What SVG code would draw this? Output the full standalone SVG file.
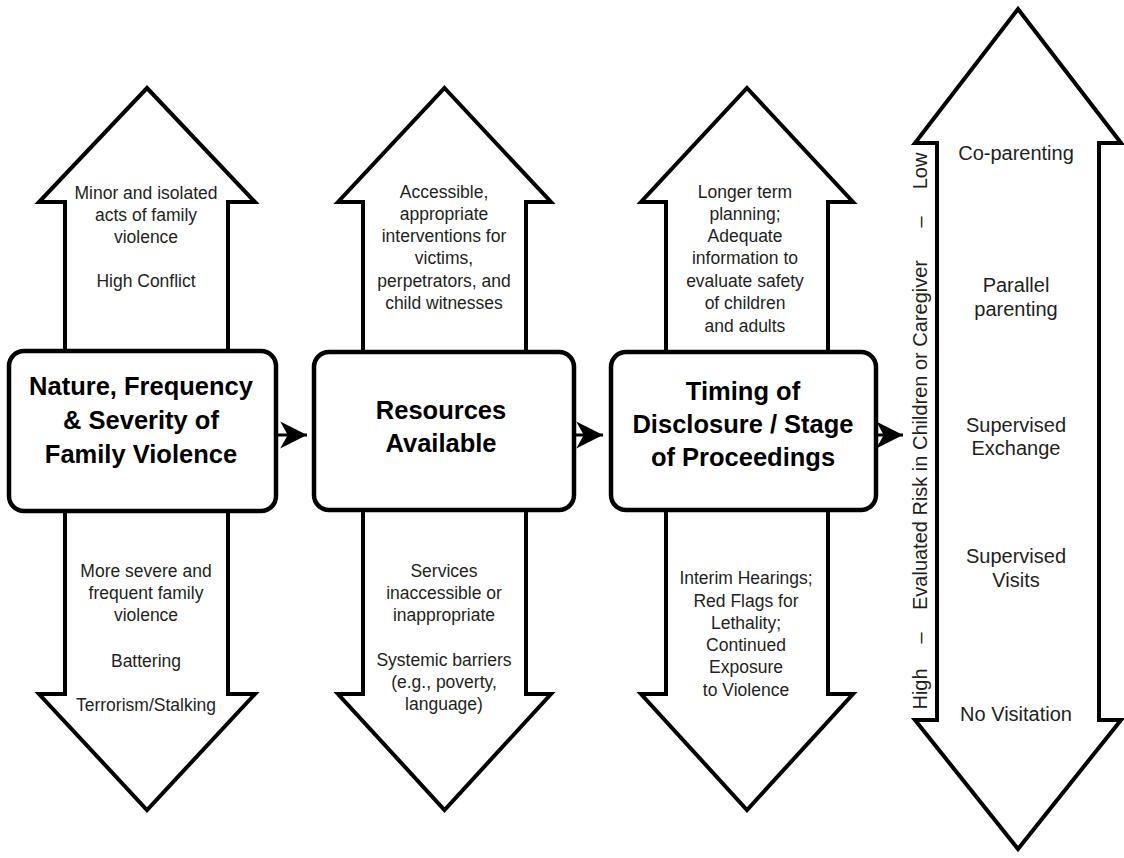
<svg xmlns="http://www.w3.org/2000/svg" width="1124" height="858" viewBox="0 0 1124 858">
<style>
.arrow{fill:#fff;stroke:#000;stroke-width:4;stroke-linejoin:miter;stroke-miterlimit:10}
.box{fill:#fff;stroke:#000;stroke-width:4.5}
.conn{fill:none;stroke:#000;stroke-width:3}
.t{font-family:"Liberation Sans",Arial,sans-serif;font-size:17.5px;fill:#231f20;text-anchor:middle}
.t4{font-family:"Liberation Sans",Arial,sans-serif;font-size:20px;fill:#231f20;text-anchor:middle}
.title{font-family:"Liberation Sans",Arial,sans-serif;font-size:25.5px;font-weight:bold;fill:#000;text-anchor:middle}
</style>
<defs>
<marker id="head" markerUnits="userSpaceOnUse" markerWidth="30" markerHeight="30" viewBox="-26 -14 28 28" refX="0" refY="0" orient="auto">
<path d="M0,0 L-25,-12.5 L-18,0 L-25,12.5 Z" fill="#000"/>
</marker>
</defs>
<rect width="1124" height="858" fill="#fff"/>

<g id="arrow1">
<polygon class="arrow" points="147,88 255,202 228,202 228,694 255,694 147,810 39,694 65,694 65,202 39,202"/>
<text class="t" x="146" y="199">Minor and isolated</text>
<text class="t" x="146" y="221">acts of family</text>
<text class="t" x="146" y="243">violence</text>
<text class="t" x="146" y="287">High Conflict</text>
<text class="t" x="146" y="577">More severe and</text>
<text class="t" x="146" y="599">frequent family</text>
<text class="t" x="146" y="621">violence</text>
<text class="t" x="146" y="667">Battering</text>
<text class="t" x="146" y="711">Terrorism/Stalking</text>
</g>

<g id="arrow2">
<polygon class="arrow" points="444.5,88 551,202 526,202 526,694 551,694 444.5,810 338,694 363,694 363,202 338,202"/>
<text class="t" x="444" y="198">Accessible,</text>
<text class="t" x="444" y="220">appropriate</text>
<text class="t" x="444" y="242">interventions for</text>
<text class="t" x="444" y="264">victims,</text>
<text class="t" x="444" y="287">perpetrators, and</text>
<text class="t" x="444" y="309">child witnesses</text>
<text class="t" x="444" y="577">Services</text>
<text class="t" x="444" y="599">inaccessible or</text>
<text class="t" x="444" y="621">inappropriate</text>
<text class="t" x="444" y="666">Systemic barriers</text>
<text class="t" x="444" y="688">(e.g., poverty,</text>
<text class="t" x="444" y="710">language)</text>
</g>

<g id="arrow3">
<polygon class="arrow" points="747,88 853,202 828,202 828,694 853,694 747,810 641,694 666,694 666,202 641,202"/>
<text class="t" x="745" y="198">Longer term</text>
<text class="t" x="745" y="220">planning;</text>
<text class="t" x="745" y="242">Adequate</text>
<text class="t" x="745" y="264">information to</text>
<text class="t" x="745" y="287">evaluate safety</text>
<text class="t" x="745" y="309">of children</text>
<text class="t" x="745" y="332">and adults</text>
<text class="t" x="746" y="584">Interim Hearings;</text>
<text class="t" x="746" y="607">Red Flags for</text>
<text class="t" x="746" y="629">Lethality;</text>
<text class="t" x="746" y="651">Continued</text>
<text class="t" x="746" y="673">Exposure</text>
<text class="t" x="746" y="696">to Violence</text>
</g>

<g id="arrow4">
<polygon class="arrow" points="1018,9 1121,143 1099,143 1099,720 1121,720 1018,849 915,720 937,720 937,143 915,143"/>
<text class="t4" x="1016" y="160">Co-parenting</text>
<text class="t4" x="1016" y="292">Parallel</text>
<text class="t4" x="1016" y="316">parenting</text>
<text class="t4" x="1016" y="432">Supervised</text>
<text class="t4" x="1016" y="455">Exchange</text>
<text class="t4" x="1016" y="563">Supervised</text>
<text class="t4" x="1016" y="587">Visits</text>
<text class="t4" x="1016" y="721">No Visitation</text>
</g>

<g id="risk-label">
<text class="t4" transform="translate(927,689) rotate(-90)">High</text>
<text class="t4" transform="translate(927,638) rotate(-90)">–</text>
<text class="t4" transform="translate(927,435) rotate(-90)" textLength="350" lengthAdjust="spacing">Evaluated Risk in Children or Caregiver</text>
<text class="t4" transform="translate(927,222) rotate(-90)">–</text>
<text class="t4" transform="translate(927,171) rotate(-90)">Low</text>
</g>

<g id="box1">
<rect class="box" x="9" y="351" width="267" height="160" rx="15"/>
<text class="title" x="141" y="395">Nature, Frequency</text>
<text class="title" x="141" y="429">&amp; Severity of</text>
<text class="title" x="141" y="463">Family Violence</text>
</g>

<g id="box2">
<rect class="box" x="314" y="352" width="260" height="158" rx="15"/>
<text class="title" x="441" y="419">Resources</text>
<text class="title" x="441" y="452">Available</text>
</g>

<g id="box3">
<rect class="box" x="611" y="352" width="265" height="158" rx="15"/>
<text class="title" x="743" y="400">Timing of</text>
<text class="title" x="743" y="433">Disclosure / Stage</text>
<text class="title" x="743" y="466">of Proceedings</text>
</g>

<g id="connectors">
<path class="conn" d="M278,435 L307,435" marker-end="url(#head)"/>
<path class="conn" d="M576,435 L603,435" marker-end="url(#head)"/>
<path class="conn" d="M878,435 L903,435" marker-end="url(#head)"/>
</g>
</svg>
